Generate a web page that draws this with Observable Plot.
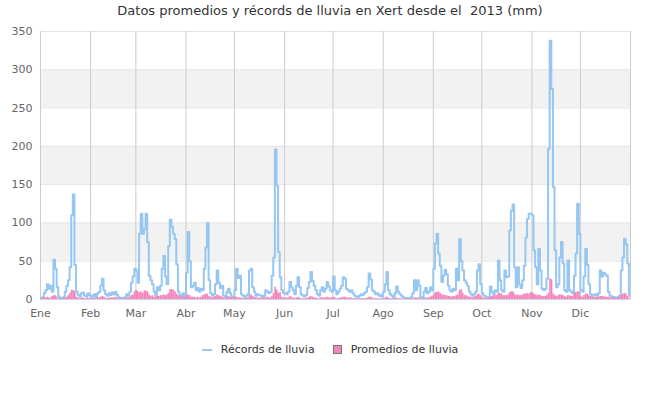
<!DOCTYPE html>
<html>
<head>
<meta charset="utf-8">
<script src="https://cdn.jsdelivr.net/npm/d3@7"></script>
<script src="https://cdn.jsdelivr.net/npm/@observablehq/plot@0.6"></script>
<style>
  html, body { margin: 0; padding: 0; background: #fff; }
  #wrap { position: relative; width: 660px; height: 400px; font-family: "DejaVu Sans", sans-serif; }
  #title { position: absolute; top: 3px; left: 0; width: 660px; text-align: center; font-size: 13px; color: #333; }
  #legend { position: absolute; top: 343px; left: 0; width: 660px; display: flex; justify-content: center; gap: 18px; font-size: 11px; color: #333; }
  .item { display: flex; align-items: center; gap: 9px; }
  .sym-line { width: 10px; height: 2px; background: #9ccaf3; }
  .sym-box { width: 7px; height: 7px; background: #f383bb; border: 1px solid #777; }
  #chart { position: absolute; top: 0; left: 0; }
</style>
</head>
<body>
<div id="wrap">
  <div id="chart"></div>
  <div id="title">Datos promedios y récords de lluvia en Xert desde el&nbsp; 2013 (mm)</div>
  <div id="legend">
    <div class="item"><span class="sym-line"></span><span>Récords de lluvia</span></div>
    <div class="item"><span class="sym-box"></span><span>Promedios de lluvia</span></div>
  </div>
</div>
<script>
const months = ["Ene","Feb","Mar","Abr","May","Jun","Jul","Ago","Sep","Oct","Nov","Dic"];
const monthStarts = [0,31,59,90,120,151,181,212,243,273,304,334];
const yearEnd = 365;
const yTicks = [0,50,100,150,200,250,300,350];
const bandStarts = [50,150,250];

// Récords de lluvia (mm), day by day, month by month
const recJan = [2,3,8,12,20,14,18,10,52,40,16,4,2,1,3,10,18,25,42,110,137,45,10,6,4,8,9,5,4,8,6];
const recFeb = [3,5,7,3,8,10,18,27,12,7,5,8,6,9,7,10,6,3,1,2,1,3,7,5,10,22,30,40];
const recMar = [38,22,86,112,86,92,112,75,31,25,20,10,5,16,12,18,40,57,30,20,70,104,95,86,79,46,10,6,4,8,3];
const recApr = [35,88,50,16,18,22,12,15,10,14,12,40,68,100,25,8,5,7,20,38,22,15,18,5,3,10,14,8,3,4];
const recMay = [12,40,28,31,7,5,3,5,7,38,40,16,10,5,7,6,5,3,5,12,10,8,10,31,55,196,149,62,29,12,8];
const recJun = [8,7,10,23,16,12,7,18,29,16,7,5,4,6,15,23,36,24,18,12,7,5,12,16,10,14,23,17,12,10];
const recJul = [30,12,7,10,14,18,29,27,14,12,10,12,8,5,4,3,5,7,6,8,10,16,34,26,12,10,7,8,5,6,4];
const recAug = [10,20,36,12,7,5,3,8,17,10,7,5,3,2,2,1,2,3,8,25,12,25,18,3,2,10,15,8,10,16,12];
const recSep = [40,73,86,60,44,23,31,39,33,18,12,10,14,12,40,25,79,50,38,25,22,18,10,7,5,7,10,38,46,20];
const recOct = [8,5,4,3,3,17,10,7,12,10,51,25,12,10,38,29,30,90,116,124,42,16,42,20,15,25,44,81,105,112,112];
const recNov = [110,64,42,20,66,38,14,12,14,27,197,338,275,147,64,16,20,55,75,47,12,10,51,12,10,8,31,60,125,86];
const recDec = [12,10,30,66,45,20,7,5,6,7,5,8,38,30,35,33,31,10,5,4,3,3,2,3,5,38,55,79,72,47,5];

// Promedios de lluvia (mm)
const avgJan = [1,1,2,2,3,2,2,4,5,5,3,1,0.5,0.5,1,2,3,5,8,12,12,10,3,2,1,2,2,1,1,2,1];
const avgFeb = [1,1,2,1,2,2,3,4,3,2,1,2,2,2,2,3,2,1,0.5,0.5,0.5,1,2,2,3,5,6,10];
const avgMar = [12,10,9,10,8,11,11,10,6,4,5,3,3,4,4,5,5,6,5,6,8,13,13,12,10,7,5,4,3,3,2];
const avgApr = [5,6,5,3,3,3,2,3,2,3,5,6,7,7,4,3,2,3,4,6,5,4,3,2,1,3,4,3,2,2];
const avgMay = [3,3,2,2,2,1,1,1,2,5,6,4,3,2,2,2,2,1,2,2,3,2,2,4,8,16,12,8,9,3,2];
const avgJun = [2,2,2,4,3,2,1,2,3,2,1,1,1,1,2,3,4,3,2,2,1,1,2,2,2,2,3,2,2,2];
const avgJul = [3,2,1,1,2,2,3,3,2,2,2,2,1,1,1,1,1,1,1,1,1,2,3,3,2,1,1,1,1,1,1];
const avgAug = [1,2,3,2,1,1,1,1,2,1,1,1,0.5,0.5,0.5,0.5,0.5,1,1,2,2,2,2,1,1,1,2,2,2,3,4];
const avgSep = [6,9,9,10,8,6,6,5,5,4,4,3,4,4,5,6,12,13,8,5,5,4,3,3,2,3,4,6,7,5];
const avgOct = [2,2,2,1,2,3,4,5,5,5,8,8,7,5,5,5,6,9,10,10,7,5,6,5,5,6,7,7,8,7,9];
const avgNov = [9,7,6,5,6,5,4,4,4,5,8,27,26,7,5,4,5,6,6,5,4,3,5,5,4,4,8,9,10,10];
const avgDec = [4,3,5,7,7,5,4,3,3,3,3,3,4,4,4,3,3,3,2,2,2,2,1,2,2,5,7,8,7,4,1];

const records = [].concat(recJan,recFeb,recMar,recApr,recMay,recJun,recJul,recAug,recSep,recOct,recNov,recDec);
const averages = [].concat(avgJan,avgFeb,avgMar,avgApr,avgMay,avgJun,avgJul,avgAug,avgSep,avgOct,avgNov,avgDec);
const days = records.map((r, i) => ({day: i, rec: r, avg: averages[i]}));

const chart = Plot.plot({
  width: 660,
  height: 400,
  marginTop: 31,
  marginBottom: 101,
  marginLeft: 40,
  marginRight: 30,
  style: {fontFamily: "DejaVu Sans, sans-serif", fontSize: "11px", color: "#666", background: "transparent"},
  x: {type: "linear", domain: [0, yearEnd]},
  y: {domain: [0, 350]},
  marks: [
    Plot.rect(bandStarts, {x1: 0, x2: yearEnd, y1: d => d, y2: d => d + 50, fill: "#f2f2f2"}),
    Plot.ruleY(yTicks, {stroke: "#e6e6e6"}),
    Plot.ruleX(monthStarts.concat([yearEnd]), {stroke: "#cccccc"}),
    Plot.line(days, {x: d => d.day + 0.5, y: "rec", curve: "step", stroke: "#96c6f2", strokeWidth: 2}),
    Plot.rectY(days, {x1: "day", x2: d => d.day + 1, y: "avg", fill: "#f383bb"}),
    Plot.ruleY([0], {stroke: "#ccd6eb"}),
    Plot.axisX({ticks: monthStarts, tickFormat: d => months[monthStarts.indexOf(d)], tickSize: 0, tickPadding: 10, fill: "#666", label: null}),
    Plot.axisY({ticks: yTicks, tickSize: 0, tickPadding: 8, fill: "#666", label: null})
  ]
});
document.getElementById("chart").appendChild(chart);
</script>
</body>
</html>
